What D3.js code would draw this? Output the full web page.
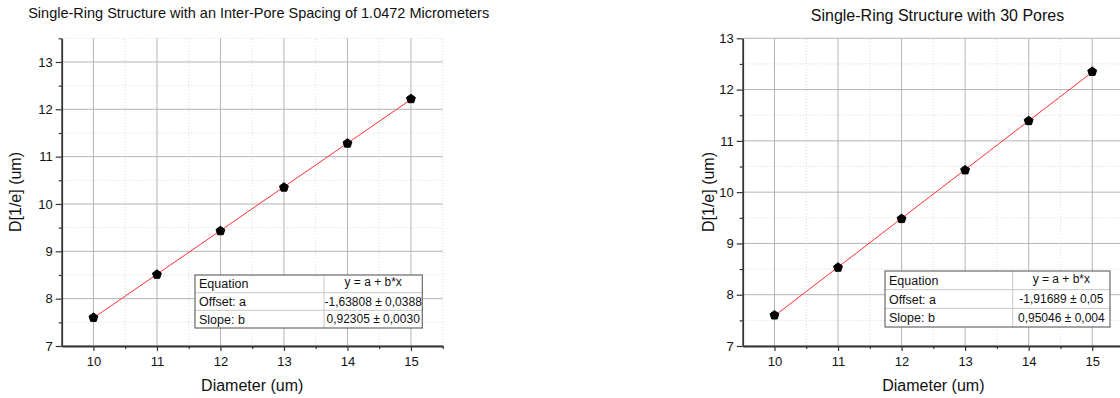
<!DOCTYPE html>
<html>
<head>
<meta charset="utf-8">
<script src="https://cdn.jsdelivr.net/npm/d3@7"></script>
<style>
  html, body { margin: 0; padding: 0; background: #fff; }
  svg { display: block; font-family: "Liberation Sans", Arial, sans-serif; }
</style>
</head>
<body>
<svg id="chart" width="1120" height="398"></svg>
<script>
// Diameters shared by both panels
const diameters = [10, 11, 12, 13, 14, 15];

// Panel 1: fixed inter-pore spacing
const spacingTitle = "Single-Ring Structure with an Inter-Pore Spacing of 1.0472 Micrometers";
const spacingD = [7.60, 8.51, 9.43, 10.35, 11.28, 12.22];
const spacingOffset = -1.63808;
const spacingSlope = 0.92305;
const spacingTableValues = ["y = a + b*x", "-1,63808 ± 0,0388", "0,92305 ± 0,0030"];

// Panel 2: fixed pore count
const poresTitle = "Single-Ring Structure with 30 Pores";
const poresD = [7.60, 8.53, 9.48, 10.43, 11.39, 12.35];
const poresOffset = -1.91689;
const poresSlope = 0.95046;
const poresTableValues = ["y = a + b*x", "-1,91689 ± 0,05", "0,95046 ± 0,004"];

// Shared labels and ticks
const tableLabels = ["Equation", "Offset: a", "Slope: b"];
const xTicks = [10, 11, 12, 13, 14, 15];
const xMinorTicks = [10.5, 11.5, 12.5, 13.5, 14.5, 15.5];
const xLabel = "Diameter (um)";
const yLabel = "D[1/e] (um)";

const svg = d3.select("#chart");
const intFmt = d3.format("d");

// Pentagon marker for d3.symbol
const pentagon = {
  draw(context, size) {
    const r = Math.sqrt(size / 2.378);
    for (let i = 0; i < 5; i++) {
      const a = -Math.PI / 2 + i * 2 * Math.PI / 5;
      const px = r * Math.cos(a), py = r * Math.sin(a);
      if (i === 0) context.moveTo(px, py); else context.lineTo(px, py);
    }
    context.closePath();
  }
};

function drawPanel(cfg) {
  const g = svg.append("g");
  const x = d3.scaleLinear().domain([9.5, 15.5]).range([cfg.left, cfg.right]);
  const y = d3.scaleLinear().domain(cfg.yDomain).range([346, 38.3]);

  const yMinor = cfg.yMinor;

  // minor grid
  g.append("g").selectAll("line").data(xMinorTicks).join("line")
    .attr("x1", d => x(d)).attr("x2", d => x(d))
    .attr("y1", y.range()[0]).attr("y2", y.range()[1])
    .attr("stroke", "#d8d8d8").attr("stroke-width", 1).attr("stroke-dasharray", "1,2");
  g.append("g").selectAll("line").data(yMinor).join("line")
    .attr("x1", x.range()[0]).attr("x2", x.range()[1])
    .attr("y1", d => y(d)).attr("y2", d => y(d))
    .attr("stroke", "#d8d8d8").attr("stroke-width", 1).attr("stroke-dasharray", "1,2");

  // major grid
  g.append("g").selectAll("line").data(xTicks).join("line")
    .attr("x1", d => x(d)).attr("x2", d => x(d))
    .attr("y1", y.range()[0]).attr("y2", y.range()[1])
    .attr("stroke", "#b4b4b4").attr("stroke-width", 1);
  g.append("g").selectAll("line").data(cfg.yTicks).join("line")
    .attr("x1", x.range()[0]).attr("x2", x.range()[1])
    .attr("y1", d => y(d)).attr("y2", d => y(d))
    .attr("stroke", "#b4b4b4").attr("stroke-width", 1);

  // fit line from the table coefficients
  const fit = d => cfg.offset + cfg.slope * d;
  g.append("path")
    .datum([diameters[0], diameters[diameters.length - 1]])
    .attr("d", d3.line().x(d => x(d)).y(d => y(fit(d))))
    .attr("fill", "none").attr("stroke", "#ff3030").attr("stroke-width", 1);

  // measured points
  g.append("g").selectAll("path").data(diameters).join("path")
    .attr("transform", (d, i) => `translate(${x(d)},${y(cfg.values[i])})`)
    .attr("d", d3.symbol().type(pentagon).size(52))
    .attr("fill", "#000").attr("stroke", "#000").attr("stroke-width", 1);

  // axes
  const axisColor = "#333";
  const xAxis = g.append("g").attr("transform", "translate(0,346)")
    .call(d3.axisBottom(x).tickValues(xTicks).tickFormat(intFmt)
      .tickSize(5).tickPadding(6).tickSizeOuter(0));
  g.append("g").attr("transform", "translate(0,346)")
    .call(d3.axisBottom(x).tickValues(xMinorTicks).tickSize(3).tickFormat("").tickSizeOuter(0))
    .call(a => a.select(".domain").remove())
    .selectAll("line").attr("stroke", axisColor).attr("stroke-width", 1.2);
  const yAxis = g.append("g").attr("transform", `translate(${cfg.left},0)`)
    .call(d3.axisLeft(y).tickValues(cfg.yTicks).tickFormat(intFmt)
      .tickSize(6).tickPadding(3).tickSizeOuter(0));
  g.append("g").attr("transform", `translate(${cfg.left},0)`)
    .call(d3.axisLeft(y).tickValues(yMinor).tickSize(3).tickFormat("").tickSizeOuter(0))
    .call(a => a.select(".domain").remove())
    .selectAll("line").attr("stroke", axisColor).attr("stroke-width", 1.2);

  [xAxis, yAxis].forEach(a => {
    a.attr("font-size", 13).attr("font-family", "Liberation Sans, Arial, sans-serif");
    a.select(".domain").attr("stroke", axisColor).attr("stroke-width", 1.8);
    a.selectAll(".tick line").attr("stroke", axisColor).attr("stroke-width", 1.2);
    a.selectAll(".tick text").attr("fill", "#111");
  });

  // titles
  g.append("text").attr("x", cfg.titleX).attr("y", cfg.titleY)
    .attr("text-anchor", "middle").attr("font-size", cfg.titleSize).attr("fill", "#111")
    .text(cfg.title);
  g.append("text").attr("x", (x.range()[0] + Math.min(x.range()[1], 1120)) / 2 + cfg.xLabelShift).attr("y", 391)
    .attr("text-anchor", "middle").attr("font-size", 16).attr("fill", "#111")
    .text(xLabel);
  g.append("text")
    .attr("transform", `translate(${cfg.yLabelX},192) rotate(-90)`)
    .attr("text-anchor", "middle").attr("dy", "0.35em")
    .attr("font-size", 16).attr("fill", "#111")
    .text(yLabel);

  // fit result table
  const t = cfg.table;
  const rowH = (t.bottom - t.top) / tableLabels.length;
  const tg = g.append("g");
  tg.append("rect").attr("x", t.left).attr("y", t.top)
    .attr("width", t.right - t.left).attr("height", t.bottom - t.top)
    .attr("fill", "#fff");
  tg.selectAll("line.row").data(d3.range(1, tableLabels.length)).join("line")
    .attr("x1", t.left).attr("x2", t.right)
    .attr("y1", i => t.top + i * rowH).attr("y2", i => t.top + i * rowH)
    .attr("stroke", "#c8c8c8").attr("stroke-width", 1);
  tg.append("line").attr("x1", t.mid).attr("x2", t.mid)
    .attr("y1", t.top).attr("y2", t.bottom)
    .attr("stroke", "#c8c8c8").attr("stroke-width", 1);
  tg.append("rect").attr("x", t.left).attr("y", t.top)
    .attr("width", t.right - t.left).attr("height", t.bottom - t.top)
    .attr("fill", "none").attr("stroke", "#6a6a6a").attr("stroke-width", 1.2);
  tg.selectAll("text.lab").data(tableLabels).join("text")
    .attr("x", t.left + 4).attr("y", (d, i) => t.top + (i + 0.5) * rowH)
    .attr("dy", "0.36em").attr("font-size", 12.5).attr("fill", "#111")
    .text(d => d);
  tg.selectAll("text.val").data(cfg.tableValues).join("text")
    .attr("x", (t.mid + t.right) / 2).attr("y", (d, i) => t.top + (i + 0.5) * rowH - (i === 0 ? 2 : 0))
    .attr("dy", "0.36em").attr("text-anchor", "middle").attr("font-size", 12).attr("fill", "#111")
    .text(d => d);
}

drawPanel({
  left: 61.7, right: 442.7,
  yDomain: [7, 13.5],
  yTicks: [7, 8, 9, 10, 11, 12, 13],
  yMinor: [7.5, 8.5, 9.5, 10.5, 11.5, 12.5, 13.5],
  values: spacingD, offset: spacingOffset, slope: spacingSlope,
  title: spacingTitle, titleX: 258.7, titleY: 17.5, titleSize: 14.5,
  xLabelShift: 0, yLabelX: 15,
  table: { left: 195, right: 422.3, mid: 324, top: 275, bottom: 328 },
  tableValues: spacingTableValues
});

drawPanel({
  left: 742.7, right: 1124,
  yDomain: [7, 13],
  yTicks: [7, 8, 9, 10, 11, 12, 13],
  yMinor: [7.5, 8.5, 9.5, 10.5, 11.5, 12.5],
  values: poresD, offset: poresOffset, slope: poresSlope,
  title: poresTitle, titleX: 937.5, titleY: 21, titleSize: 16,
  xLabelShift: 2, yLabelX: 708,
  table: { left: 885, right: 1110, mid: 1012.7, top: 271, bottom: 327 },
  tableValues: poresTableValues
});
</script>
</body>
</html>
